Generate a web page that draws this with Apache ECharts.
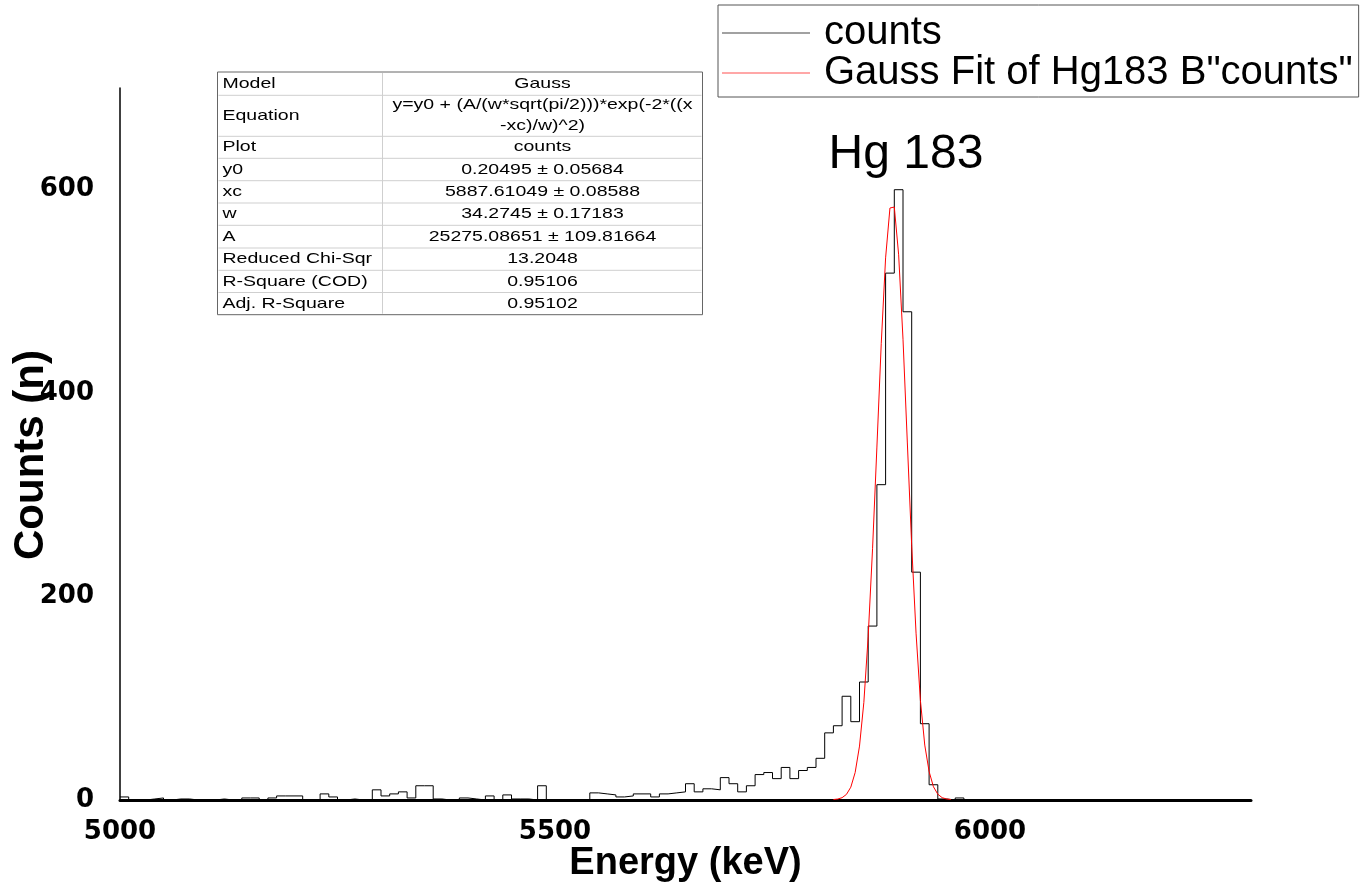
<!DOCTYPE html>
<html>
<head>
<meta charset="utf-8">
<script src="https://cdn.jsdelivr.net/npm/echarts@6/dist/echarts.min.js"></script>
<style>
html,body{margin:0;padding:0;background:#fff;}
#chart{width:1366px;height:886px;}
</style>
</head>
<body>
<div id="chart"></div>
<script>
// ---- data ----
const binStart = [
  5000,5010,5020,5030,5040,5050,5060,5070,5080,5090,
  5100,5110,5120,5130,5140,5150,5160,5170,5180,5190,
  5200,5210,5220,5230,5240,5250,5260,5270,5280,5290,
  5300,5310,5320,5330,5340,5350,5360,5370,5380,5390,
  5400,5410,5420,5430,5440,5450,5460,5470,5480,5490,
  5500,5510,5520,5530,5540,5550,5560,5570,5580,5590,
  5600,5610,5620,5630,5640,5650,5660,5670,5680,5690,
  5700,5710,5720,5730,5740,5750,5760,5770,5780,5790,
  5800,5810,5820,5830,5840,5850,5860,5870,5880,5890,
  5900,5910,5920,5930,5940,5950,5960,5970,5980,5990
];
const counts = [
  3,0,0,1,2,0,1,1,0,0,
  0,1,0,0,2,2,0,2,4,4,
  4,0,0,6,3,0,1,0,0,10,
  4,6,8,2,14,14,1,0,0,2,
  1,0,4,0,5,1,1,0,14,0,
  0,0,0,0,7,6,5,3,4,6,
  6,3,6,7,8,16,8,11,10,22,
  16,8,14,25,27,21,32,21,29,32,
  41,66,73,102,77,116,171,310,518,600,
  480,224,75,15,1,0,2,0,0,0
];
const fitEnergy = [
  5820,5825,5830,5835,5840,5845,5850,5855,5860,5865,
  5870,5875,5880,5885,5890,5895,5900,5905,5910,5915,
  5920,5925,5930,5935,5940,5945,5950,5955
];
const fitCounts = [
  0.45,0.94,2.3,5.5,12.6,27,53,96,161,247,
  347,449,533,582,583,536,453,351,250,164,
  98,54,28,13,5.7,2.3,1.0,0.5
];
const xTickLabels = [5000, 5500, 6000];
const yTickLabels = [0, 200, 400, 600];
const seriesNames = ['counts', 'Gauss Fit of Hg183 B"counts"'];
const peakLabel = 'Hg 183';
const tableLabels = ['Model','Equation','Plot','y0','xc','w','A','Reduced Chi-Sqr','R-Square (COD)','Adj. R-Square'];
const tableValues = [
  'Gauss',
  'y=y0 + (A/(w*sqrt(pi/2)))*exp(-2*((x\n-xc)/w)^2)',
  'counts',
  '0.20495 \u00b1 0.05684',
  '5887.61049 \u00b1 0.08588',
  '34.2745 \u00b1 0.17183',
  '25275.08651 \u00b1 109.81664',
  '13.2048',
  '0.95106',
  '0.95102'
];

// ---- build ----
const histData = binStart.map((x, i) => [x, counts[i]]);
const fitData = fitEnergy.map((x, i) => [x, fitCounts[i]]);

// table layout
const tLeft = 217.5, tRight = 702.5, tSplit = 382.5;
const rowEdges = [72, 95.3, 136.3, 158.3, 180.7, 203, 225.3, 248, 270.3, 292.5, 314.7];
const tableFont = {fontFamily: 'Liberation Sans', fontSize: 15};
const graphics = [];
graphics.push({type:'rect', z: 10, shape:{x:tLeft, y:rowEdges[0], width:tRight-tLeft, height:rowEdges[rowEdges.length-1]-rowEdges[0]},
  style:{fill:'#fff', stroke:'#666', lineWidth:1}});
for (let i = 1; i < rowEdges.length - 1; i++) {
  graphics.push({type:'line', z: 11, shape:{x1:tLeft+1, y1:rowEdges[i], x2:tRight-1, y2:rowEdges[i]}, style:{stroke:'#cfcfcf', lineWidth:1}});
}
graphics.push({type:'line', z: 11, shape:{x1:tSplit, y1:rowEdges[0]+1, x2:tSplit, y2:rowEdges[rowEdges.length-1]-1}, style:{stroke:'#cfcfcf', lineWidth:1}});
for (let i = 0; i < tableLabels.length; i++) {
  const cy = (rowEdges[i] + rowEdges[i+1]) / 2;
  graphics.push({type:'text', z: 12, x: 222.5, y: cy, scaleX: 1.3,
    style: Object.assign({text: tableLabels[i], fill:'#000', align:'left', verticalAlign:'middle', textAlign:'left', textVerticalAlign:'middle'}, tableFont)});
  graphics.push({type:'text', z: 12, x: (tSplit + tRight) / 2, y: cy, scaleX: 1.3,
    style: Object.assign({text: tableValues[i], fill:'#000', align:'center', verticalAlign:'middle', textAlign:'center', textVerticalAlign:'middle', lineHeight: 21}, tableFont)});
}
graphics.push({type:'text', z: 12, x: 906, y: 155,
  style:{text: peakLabel, fill:'#000', fontFamily:'Liberation Sans', fontSize:48, align:'center', verticalAlign:'middle', textAlign:'center', textVerticalAlign:'middle'}});

const chart = echarts.init(document.getElementById('chart'), null, {renderer:'canvas'});
chart.setOption({
  animation: false,
  backgroundColor: '#fff',
  grid: {left: 120, right: 115, top: 88, bottom: 86, containLabel: false, outerBoundsMode: 'none'},
  legend: {
    left: 718, top: 5, orient: 'vertical',
    icon: 'rect', itemWidth: 88, itemHeight: 1, itemGap: 0,
    padding: [8, 6, 4, 4],
    borderColor: '#555', borderWidth: 1,
    textStyle: {fontFamily: 'Liberation Sans', fontSize: 40, color: '#000', padding: [0, 0, 0, 9]},
    data: [
      {name: seriesNames[0], itemStyle: {color: '#444'}},
      {name: seriesNames[1], itemStyle: {color: '#ff5050'}}
    ]
  },
  xAxis: {
    type: 'value', min: 5000, max: 6300, interval: 500,
    name: 'Energy (keV)', nameLocation: 'middle', nameGap: 45, nameMoveOverlap: false,
    nameTextStyle: {fontFamily: 'Liberation Sans', fontWeight: 'bold', fontSize: 38, color: '#000'},
    axisLine: {show: true, onZero: false, lineStyle: {color: '#000', width: 3}},
    axisTick: {show: false},
    splitLine: {show: false},
    axisLabel: {
      margin: 19, color: '#000', fontFamily: 'DejaVu Sans', fontWeight: 'bold', fontSize: 26,
      formatter: v => xTickLabels.indexOf(v) >= 0 ? String(v) : ''
    }
  },
  yAxis: {
    type: 'value', min: 0, max: 700, interval: 200,
    name: 'Counts (n)', nameLocation: 'middle', nameGap: 68, nameMoveOverlap: false,
    nameTextStyle: {fontFamily: 'Liberation Sans', fontWeight: 'bold', fontSize: 42, color: '#000', padding: [0, 22, 0, 0]},
    axisLine: {show: true, onZero: false, lineStyle: {color: '#000', width: 1.5}},
    axisTick: {show: false},
    splitLine: {show: false},
    axisLabel: {
      margin: 26, color: '#000', fontFamily: 'DejaVu Sans', fontWeight: 'bold', fontSize: 26,
      formatter: v => yTickLabels.indexOf(v) >= 0 ? String(v) : ''
    }
  },
  series: [
    {
      name: seriesNames[0], type: 'line', step: 'end', data: histData,
      showSymbol: false, symbol: 'none', clip: true,
      lineStyle: {color: '#000', width: 1}, itemStyle: {color: '#000'}
    },
    {
      name: seriesNames[1], type: 'line', data: fitData,
      showSymbol: false, symbol: 'none', smooth: false,
      lineStyle: {color: '#ff0000', width: 1}, itemStyle: {color: '#ff0000'}
    }
  ],
  graphic: graphics
});
</script>
</body>
</html>
